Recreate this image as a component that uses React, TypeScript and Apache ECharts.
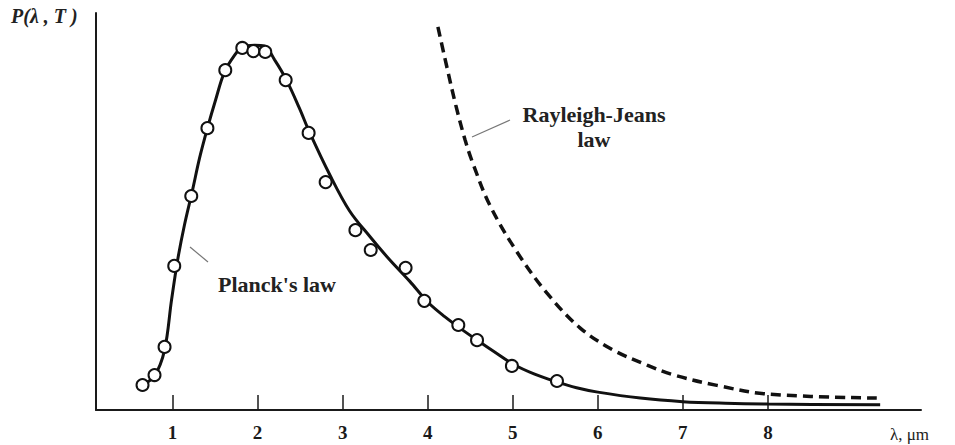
import React, { useEffect, useRef } from "react";
import * as echarts from "echarts";

const xTicks = [1, 2, 3, 4, 5, 6, 7, 8];

const planckLambda = [0.647, 0.788, 0.906, 0.988, 1.06, 1.14, 1.235, 1.318, 1.41, 1.506, 1.61, 1.73, 1.82, 1.965, 2.08, 2.2, 2.34, 2.49, 2.61, 2.85, 3.08, 3.32, 3.55, 3.79, 4.0, 4.2, 4.4, 4.6, 4.8, 5.0, 5.25, 5.5, 5.75, 6.0, 6.5, 7.0, 7.5, 8.0, 9.32];
const planckValue = [6.3, 8.6, 15.1, 27.7, 37.8, 46.6, 55.4, 63.5, 71.0, 78.1, 85.1, 89.4, 91.4, 91.9, 91.7, 88.2, 83.1, 76.1, 70.0, 59.2, 50.2, 43.7, 37.9, 32.4, 27.2, 23.5, 20.3, 17.3, 14.4, 11.6, 9.1, 7.2, 5.6, 4.5, 3.0, 2.1, 1.7, 1.5, 1.3];

const measuredLambda = [0.647, 0.788, 0.906, 1.02, 1.22, 1.41, 1.62, 1.82, 1.95, 2.09, 2.33, 2.6, 2.8, 3.15, 3.33, 3.74, 3.96, 4.36, 4.58, 4.99, 5.52];
const measuredValue = [6.3, 8.8, 15.9, 36.3, 53.9, 71.0, 85.6, 91.2, 90.4, 90.2, 83.1, 69.8, 57.4, 45.3, 40.3, 35.8, 27.5, 21.4, 17.6, 11.1, 7.3];

const rjLambda = [4.12, 4.22, 4.33, 4.44, 4.53, 4.73, 5.05, 5.4, 5.79, 6.18, 6.58, 6.88, 7.4, 8.0, 9.28];
const rjValue = [96.5, 86.9, 76.8, 68.0, 62.2, 51.6, 39.8, 29.5, 20.7, 15.1, 11.3, 8.9, 6.2, 4.0, 3.0];

const SERIF = "'Liberation Serif', 'DejaVu Serif', serif";

export default function App() {
  const ref = useRef<HTMLDivElement>(null);
  useEffect(() => {
    if (!ref.current) return;
    const chart = echarts.init(ref.current, null, { renderer: "svg" });
    const zip = (a: number[], b: number[]) => a.map((v, i) => [v, b[i]]);
    chart.setOption({
      animation: false,
      backgroundColor: "#ffffff",
      grid: { left: 96, right: 34, top: 13, bottom: 35 },
      xAxis: {
        type: "value",
        min: 0.1,
        max: 9.8,
        splitLine: { show: false },
        axisLine: { show: true, lineStyle: { color: "#1a1a1a", width: 2 } },
        axisTick: {
          show: true,
          inside: true,
          length: 15,
          customValues: xTicks,
          lineStyle: { color: "#1a1a1a", width: 1.5 },
        },
        axisLabel: {
          show: true,
          customValues: xTicks,
          margin: 13,
          color: "#1a1a1a",
          fontFamily: SERIF,
          fontSize: 19,
          fontWeight: "bold",
        },
      },
      yAxis: {
        type: "value",
        min: 0,
        max: 100,
        splitLine: { show: false },
        axisLine: { show: true, lineStyle: { color: "#1a1a1a", width: 2 } },
        axisTick: { show: false },
        axisLabel: { show: false },
      },
      series: [
        {
          type: "line",
          name: "Planck",
          data: zip(planckLambda, planckValue),
          smooth: 0.35,
          showSymbol: false,
          lineStyle: { color: "#111", width: 3 },
          z: 2,
        },
        {
          type: "line",
          name: "Rayleigh-Jeans",
          data: zip(rjLambda, rjValue),
          smooth: 0.35,
          showSymbol: false,
          lineStyle: { color: "#111", width: 3.5, type: [10, 6] },
          z: 2,
        },
        {
          type: "scatter",
          name: "Measured",
          data: zip(measuredLambda, measuredValue),
          symbol: "circle",
          symbolSize: 12,
          itemStyle: { color: "#ffffff", opacity: 1, borderColor: "#111", borderWidth: 2 },
          z: 3,
        },
      ],
      graphic: [
        {
          type: "text",
          left: 11,
          top: 6,
          style: {
            text: "P(λ , T )",
            fontFamily: SERIF,
            fontStyle: "italic",
            fontWeight: "bold",
            fontSize: 20,
            fill: "#222",
          },
        },
        {
          type: "text",
          x: 890,
          y: 434,
          style: {
            text: "λ, μm",
            verticalAlign: "middle",
            fontFamily: SERIF,
            fontSize: 17,
            fill: "#222",
          },
        },
        {
          type: "text",
          left: 218,
          top: 273,
          style: {
            text: "Planck's law",
            fontFamily: SERIF,
            fontWeight: "bold",
            fontSize: 22,
            fill: "#222",
          },
        },
        {
          type: "line",
          shape: { x1: 190, y1: 247, x2: 208, y2: 262 },
          style: { stroke: "#777", lineWidth: 1.2 },
        },
        {
          type: "text",
          x: 594,
          y: 102,
          style: {
            text: "Rayleigh-Jeans\nlaw",
            align: "center",
            verticalAlign: "top",
            fontFamily: SERIF,
            fontWeight: "bold",
            fontSize: 22,
            lineHeight: 25,
            fill: "#222",
          },
        },
        {
          type: "line",
          shape: { x1: 472, y1: 137, x2: 510, y2: 120 },
          style: { stroke: "#777", lineWidth: 1.2 },
        },
      ],
    });
    return () => chart.dispose();
  }, []);
  return (
    <div
      ref={ref}
      style={{ position: "fixed", left: 0, top: 0, width: 955, height: 445 }}
    />
  );
}
